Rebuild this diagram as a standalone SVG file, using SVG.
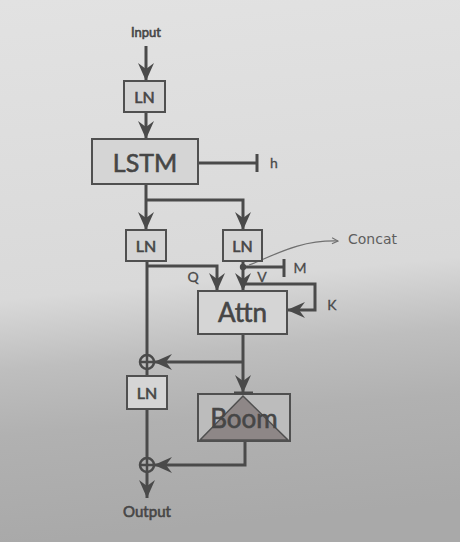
<svg xmlns="http://www.w3.org/2000/svg" width="460" height="542" viewBox="0 0 460 542">
<defs>
<linearGradient id="bg" x1="0" y1="0" x2="0.08" y2="1">
<stop offset="0" stop-color="#e2e2e2"/>
<stop offset="0.55" stop-color="#d9d9d9"/>
<stop offset="0.68" stop-color="#bebebe"/>
<stop offset="0.8" stop-color="#b1b1b1"/>
<stop offset="1" stop-color="#a9a9a9"/>
</linearGradient>
<marker id="ar" markerUnits="userSpaceOnUse" markerWidth="20" markerHeight="20" refX="18" refY="9" orient="auto">
<path d="M0,1 L18,9 L0,17 L6,9 Z" fill="#4a4a4a"/>
</marker>
<marker id="thin" markerUnits="userSpaceOnUse" markerWidth="8" markerHeight="8" refX="7" refY="4" orient="auto">
<path d="M1,1 L7,4 L1,7" fill="none" stroke="#707070" stroke-width="1.1"/>
</marker>
</defs>
<style>
.box{fill:#d5d5d5;stroke:#505050;stroke-width:2}
.ln{fill:none;stroke:#4a4a4a;stroke-width:3}
.t{font-family:Lato,"Open Sans",sans-serif;fill:#464646;stroke:#464646;stroke-width:0.6;text-anchor:middle}
.lbl{font-family:Lato,"Open Sans",sans-serif;fill:#4a4a4a;stroke:#4a4a4a;stroke-width:0.3;font-size:14px;text-anchor:middle}
.plus{fill:none;stroke:#4a4a4a;stroke-width:2.5}
</style>
<rect width="460" height="542" fill="url(#bg)"/>

<g id="connectors">
<line class="ln" x1="146" y1="46" x2="146" y2="81" marker-end="url(#ar)"/>
<line class="ln" x1="146" y1="112" x2="146" y2="139" marker-end="url(#ar)"/>
<line class="ln" x1="198" y1="163" x2="257" y2="163"/>
<line class="ln" x1="257" y1="154" x2="257" y2="172"/>
<line class="ln" x1="146" y1="184" x2="146" y2="230" marker-end="url(#ar)"/>
<polyline class="ln" points="146,200 243,200 243,230" marker-end="url(#ar)"/>
<line class="ln" x1="147" y1="261" x2="147" y2="354"/>
<polyline class="ln" points="147,266 217,266 217,291" marker-end="url(#ar)"/>
<line class="ln" x1="243" y1="261" x2="243" y2="291" marker-end="url(#ar)"/>
<circle cx="243" cy="267" r="3.2" fill="#4a4a4a"/>
<line class="ln" x1="243" y1="267" x2="284" y2="267"/>
<line class="ln" x1="284" y1="259" x2="284" y2="277"/>
<polyline class="ln" points="243,284 315,284 315,310 287,310" marker-end="url(#ar)"/>
<line class="ln" x1="243" y1="334" x2="243" y2="393" marker-end="url(#ar)"/>
<line class="ln" x1="243" y1="362" x2="154" y2="362" marker-end="url(#ar)"/>
<line class="ln" x1="147" y1="369" x2="147" y2="376"/>
<line class="ln" x1="147" y1="409" x2="147" y2="458"/>
<polyline class="ln" points="245,441 245,465 154,465" marker-end="url(#ar)"/>
<line class="ln" x1="147" y1="472" x2="147" y2="498" marker-end="url(#ar)"/>
<path d="M249,265 C272,257 296,240 338,241" fill="none" stroke="#707070" stroke-width="1.2" marker-end="url(#thin)"/>
</g>

<g id="plus1">
<circle class="plus" cx="147" cy="362" r="7"/>
<line class="plus" x1="140" y1="362" x2="154" y2="362"/>
<line class="plus" x1="147" y1="355" x2="147" y2="369"/>
</g>
<g id="plus2">
<circle class="plus" cx="147" cy="465" r="7"/>
<line class="plus" x1="140" y1="465" x2="154" y2="465"/>
<line class="plus" x1="147" y1="458" x2="147" y2="472"/>
</g>

<g id="input"><text class="t" x="146" y="37" font-size="13" stroke-width="0.4">Input</text></g>
<g id="ln1"><rect class="box" x="124" y="81" width="41" height="31"/><text class="t" x="144.5" y="103" font-size="16">LN</text></g>
<g id="lstm"><rect class="box" x="92" y="139" width="106" height="45"/><text class="t" x="145" y="172" font-size="25">LSTM</text></g>
<g id="h"><text class="lbl" x="274" y="168">h</text></g>
<g id="ln2"><rect class="box" x="126" y="230" width="40" height="31"/><text class="t" x="146" y="252" font-size="16">LN</text></g>
<g id="ln3"><rect class="box" x="223" y="230" width="39" height="31"/><text class="t" x="242.5" y="252" font-size="16">LN</text></g>
<g id="concat"><text x="348" y="244" font-family="'DejaVu Sans',sans-serif" font-size="14" fill="#5e5e5e">Concat</text></g>
<g id="labels">
<text class="lbl" x="193" y="282">Q</text>
<text class="lbl" x="262" y="282">V</text>
<text class="lbl" x="300" y="273">M</text>
<text class="lbl" x="332" y="310">K</text>
</g>
<g id="attn"><rect class="box" x="198" y="291" width="89" height="43"/><text class="t" x="242.5" y="322" font-size="26">Attn</text></g>
<g id="ln4"><rect class="box" x="127" y="376" width="40" height="33"/><text class="t" x="147" y="399" font-size="16">LN</text></g>
<g id="boom">
<rect x="198" y="394" width="92" height="47" fill="#bcbcbc" stroke="#505050" stroke-width="2"/>
<polygon points="243,396 200,440 288,440" fill="#8e8787" stroke="#505050" stroke-width="1.5"/>
<line x1="234" y1="393" x2="253" y2="393" stroke="#4a4a4a" stroke-width="3"/>
<text class="t" x="244" y="428" font-size="26" fill="#3c3c3c" stroke="#3c3c3c" stroke-width="1">Boom</text>
</g>
<g id="output"><text class="t" x="147" y="517" font-size="15" stroke-width="0.4">Output</text></g>
</svg>
